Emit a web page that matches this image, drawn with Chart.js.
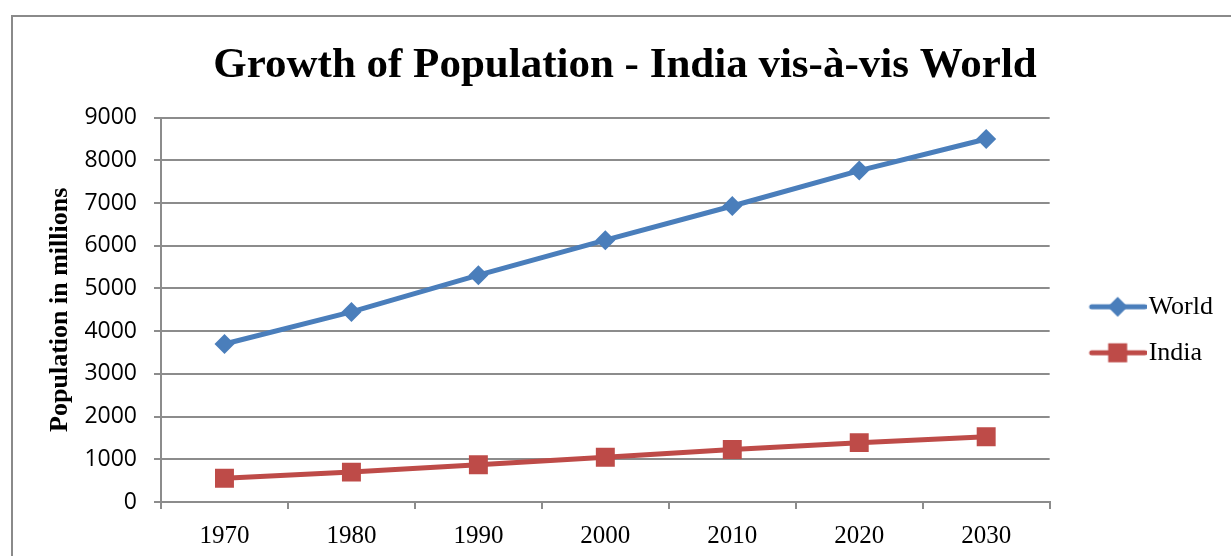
<!DOCTYPE html>
<html>
<head>
<meta charset="utf-8">
<title>Growth of Population - India vis-à-vis World</title>
<script src="https://cdn.jsdelivr.net/npm/chart.js@4.4.1/dist/chart.umd.min.js"></script>
<style>
  html, body { margin: 0; padding: 0; background: #fff; overflow: hidden; }
  #frame {
    position: absolute; left: 11px; top: 15px;
    width: 1300px; height: 600px;
    border: 2px solid #8a8a8a; box-sizing: border-box;
  }
  #populationChart { position: absolute; left: 0; top: 0; }
</style>
</head>
<body>
<div id="frame"></div>
<canvas id="populationChart" width="1231" height="556"></canvas>
<script>
// population in millions
var years = ['1970', '1980', '1990', '2000', '2010', '2020', '2030'];
var worldPopulation = [3700, 4450, 5310, 6130, 6930, 7760, 8500];
var indiaPopulation = [555, 700, 870, 1050, 1230, 1390, 1530];

var yMin = 0;
var yMax = 9000;
var yStep = 1000;

var WORLD_BLUE = '#4a7ebb';
var INDIA_RED = '#be4b48';
var GRID_GREY = '#8c8c8c';

// little line + marker picture used as the legend symbol
function legendSample(color, shape) {
  var c = document.createElement('canvas');
  c.width = 88;
  c.height = 28;
  var g = c.getContext('2d');
  g.strokeStyle = color;
  g.fillStyle = color;
  g.lineWidth = 5;
  g.lineCap = 'round';
  g.beginPath();
  g.moveTo(33, 14);
  g.lineTo(86, 14);
  g.stroke();
  g.beginPath();
  if (shape === 'diamond') {
    g.moveTo(59, 4);
    g.lineTo(69, 14);
    g.lineTo(59, 24);
    g.lineTo(49, 14);
    g.closePath();
  } else {
    g.rect(49.5, 4.5, 19, 19);
  }
  g.fill();
  return c;
}

var legendIcons = [legendSample(WORLD_BLUE, 'diamond'), legendSample(INDIA_RED, 'square')];

var ctx = document.getElementById('populationChart').getContext('2d');

var populationChart = new Chart(ctx, {
  type: 'line',
  data: {
    labels: years,
    datasets: [
      {
        label: 'World',
        data: worldPopulation,
        borderColor: WORLD_BLUE,
        backgroundColor: WORLD_BLUE,
        borderWidth: 5,
        pointStyle: 'rectRot',
        pointRadius: 10,
        pointBorderWidth: 0,
        pointBackgroundColor: WORLD_BLUE,
        tension: 0,
      },
      {
        label: 'India',
        data: indiaPopulation,
        borderColor: INDIA_RED,
        backgroundColor: INDIA_RED,
        borderWidth: 5,
        pointStyle: 'rect',
        pointRadius: 13.4,
        pointBorderWidth: 0,
        pointBackgroundColor: INDIA_RED,
        tension: 0,
      },
    ],
  },
  options: {
    responsive: false,
    animation: false,
    events: [],
    layout: {
      padding: { left: 27, right: 8, top: 0, bottom: 0 },
    },
    plugins: {
      title: {
        display: true,
        text: 'Growth of Population - India vis-à-vis World',
        color: '#000',
        font: { family: 'Liberation Serif', size: 43, weight: 'bold' },
        padding: { top: 40, bottom: 26 },
      },
      legend: {
        position: 'right',
        fullSize: false,
        title: {
          display: true,
          text: ' ',
          font: { size: 10 },
          padding: 14,
        },
        labels: {
          usePointStyle: true,
          pointStyleWidth: 66,
          padding: 20,
          color: '#000',
          font: { family: 'Liberation Serif', size: 26 },
          generateLabels: function (chart) {
            var items = Chart.defaults.plugins.legend.labels.generateLabels(chart);
            items.forEach(function (item, i) {
              item.pointStyle = legendIcons[i];
            });
            return items;
          },
        },
      },
      tooltip: { enabled: false },
    },
    scales: {
      x: {
        offset: true,
        grid: {
          offset: true,
          drawOnChartArea: false,
          drawTicks: true,
          tickLength: 7,
          color: GRID_GREY,
          lineWidth: 2,
        },
        border: { color: GRID_GREY, width: 2 },
        ticks: {
          color: '#000',
          padding: 12,
          font: { family: 'Liberation Serif', size: 25 },
        },
        afterFit: function (scale) {
          scale.height = 54;
        },
      },
      y: {
        min: yMin,
        max: yMax,
        grid: {
          color: GRID_GREY,
          lineWidth: 2,
          tickLength: 7,
        },
        border: { color: GRID_GREY, width: 2 },
        ticks: {
          stepSize: yStep,
          color: '#000',
          padding: 17,
          font: { family: 'Open Sans', size: 23 },
          callback: function (value) {
            return String(value);
          },
        },
        title: {
          display: true,
          text: 'Population in millions',
          color: '#000',
          font: { family: 'Liberation Serif', size: 26, weight: 'bold' },
          padding: { top: 18, bottom: 0 },
        },
        afterFit: function (scale) {
          scale.width = 134;
        },
      },
    },
  },
});
</script>
</body>
</html>
